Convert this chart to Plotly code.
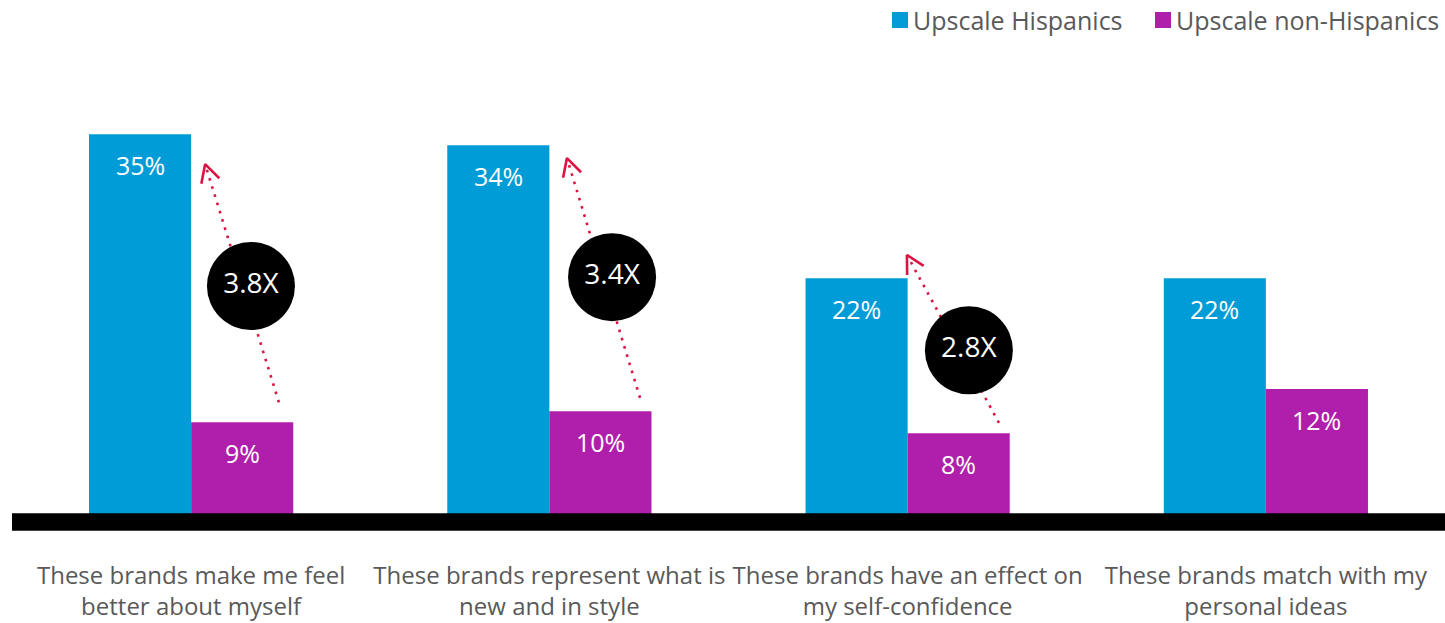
import math
import plotly.graph_objects as go

# Survey statements and the share agreeing, by segment (%)
categories = [
    "These brands make me feel<br>better about myself",
    "These brands represent what is<br>new and in style",
    "These brands have an effect on<br>my self-confidence",
    "These brands match with my<br>personal ideas",
]
series_names = ["Upscale Hispanics", "Upscale non-Hispanics"]
hispanic = [35, 34, 22, 22]
non_hispanic = [9, 10, 8, 12]
multiplier_labels = ["3.8X", "3.4X", "2.8X"]

# ---- styling / layout ----
W, H = 1445, 623
M_L, M_R, M_T, M_B = 12, 0, 60, 83
PLOT_W = W - M_L - M_R
PLOT_H = H - M_T - M_B
Y_RANGE = [-1.625, 41.70]
X_RANGE = [-0.5, len(categories) - 0.5]
PX_X = PLOT_W / (X_RANGE[1] - X_RANGE[0])
PX_Y = PLOT_H / (Y_RANGE[1] - Y_RANGE[0])

BLUE = "#009CD7"
MAGENTA = "#B01FAB"
ARROW = "#DC1443"
GREY = "#595959"
FONT = "Open Sans"
BARGAP = 0.43
HALF = (1 - BARGAP) / 4  # offset of each bar centre from category centre
colors = [BLUE, MAGENTA]


def px_to_paper(px, py):
    return (px - M_L) / PLOT_W, (H - M_B - py) / PLOT_H


x_idx = list(range(len(categories)))

fig = go.Figure()
for name, vals, col in zip(series_names, (hispanic, non_hispanic), colors):
    fig.add_trace(go.Bar(name=name, x=x_idx, y=vals, showlegend=False,
                         marker=dict(color=col, line=dict(width=0))))

annotations = []
for i in x_idx:
    for val, off in ((hispanic[i], -HALF), (non_hispanic[i], HALF)):
        annotations.append(dict(x=i + off, y=val, text=f"{val}%", showarrow=False,
                                yshift=-31, font=dict(color="white", size=25, family=FONT)))

# dotted growth arrows from the non-Hispanic bar up to the Hispanic bar
# (start dx, start dy above bar, end dx, end dy relative to Hispanic bar)
arrow_geom = [(0.245, 1.8, 0.039, -2.7), (0.253, 1.2, 0.049, -1.15), (0.255, 0.95, -0.002, 2.1)]
circle_pos = [(0.167, 21.3), (1.175, 22.1), (2.171, 15.5)]

for i, (dx0, dy0, dx1, dy1) in enumerate(arrow_geom):
    x0, y0 = i + dx0, non_hispanic[i] + dy0
    x1, y1 = i + dx1, hispanic[i] + dy1
    fig.add_trace(go.Scatter(x=[x0, x1], y=[y0, y1], mode="lines", showlegend=False,
                             hoverinfo="skip",
                             line=dict(color=ARROW, width=2.6, dash="2.6px,6px")))
    # open chevron head, built in pixel space
    vx, vy = (x0 - x1) * PX_X, (y0 - y1) * PX_Y
    n = math.hypot(vx, vy)
    bx, by = vx / n, vy / n
    hx, hy = [], []
    for sgn in (1, -1):
        a = math.radians(28) * sgn
        rx = bx * math.cos(a) - by * math.sin(a)
        ry = bx * math.sin(a) + by * math.cos(a)
        hx.append(x1 + rx * 20 / PX_X)
        hy.append(y1 + ry * 20 / PX_Y)
    fig.add_trace(go.Scatter(x=[hx[0], x1, hx[1]], y=[hy[0], y1, hy[1]], mode="lines",
                             showlegend=False, hoverinfo="skip",
                             line=dict(color=ARROW, width=2.6)))

fig.add_trace(go.Scatter(
    x=[p[0] for p in circle_pos], y=[p[1] for p in circle_pos],
    mode="markers+text", text=multiplier_labels, textposition="middle center",
    textfont=dict(color="white", size=28, family=FONT),
    marker=dict(size=88, color="black", line=dict(width=0)),
    showlegend=False, hoverinfo="skip"))

# legend: square swatch + label, top right
shapes = [dict(type="rect", xref="paper", yref="y", x0=0, x1=1, y0=-0.8, y1=0.8,
               fillcolor="black", line=dict(width=0), layer="above")]
legend_left = [892, 1155]
for name, col, lx in zip(series_names, colors, legend_left):
    sx0, sy0 = px_to_paper(lx, 28)
    sx1, sy1 = px_to_paper(lx + 16, 12)
    shapes.append(dict(type="rect", xref="paper", yref="paper", x0=sx0, x1=sx1,
                       y0=sy0, y1=sy1, fillcolor=col, line=dict(width=0)))
    tx, ty = px_to_paper(lx + 19, 20)
    annotations.append(dict(xref="paper", yref="paper", x=tx, y=ty, text=name,
                            showarrow=False, xanchor="left", yanchor="middle",
                            font=dict(size=25, color=GREY, family=FONT)))

fig.update_layout(
    width=W, height=H,
    margin=dict(l=M_L, r=M_R, t=M_T, b=M_B),
    plot_bgcolor="white", paper_bgcolor="white",
    barmode="group", bargap=BARGAP, bargroupgap=0,
    font=dict(family=FONT, color=GREY, size=24),
    showlegend=False,
    xaxis=dict(range=X_RANGE, tickmode="array", tickvals=x_idx, ticktext=categories,
               showgrid=False, zeroline=False, showline=False, ticks="",
               ticklabelstandoff=19,
               tickfont=dict(size=24, color=GREY, family=FONT)),
    yaxis=dict(range=Y_RANGE, visible=False, showgrid=False, zeroline=False),
    annotations=annotations,
    shapes=shapes,
)

fig.write_html("out.html")
